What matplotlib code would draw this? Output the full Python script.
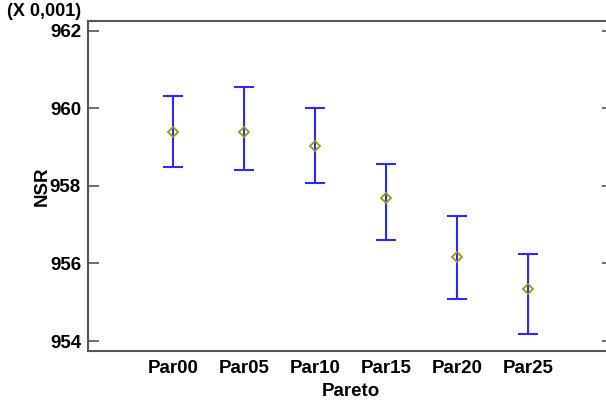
import matplotlib
matplotlib.use("Agg")
import matplotlib.pyplot as plt
import numpy as np

# values in units of 0.001
groups = ["Par00", "Par05", "Par10", "Par15", "Par20", "Par25"]
means = [959.40, 959.40, 959.04, 957.68, 956.17, 955.34]
upper = [960.32, 960.55, 960.00, 958.57, 957.22, 956.24]
lower = [958.48, 958.40, 958.07, 956.61, 955.08, 954.19]
yticks = [954, 956, 958, 960, 962]

plt.rcParams['font.family'] = ['Liberation Sans', 'DejaVu Sans']
plt.rcParams['font.weight'] = 'bold'

fig = plt.figure(figsize=(6.06, 4.01), dpi=100)
ax = fig.add_axes([88 / 606, 50.3 / 401, 525 / 606, 329.7 / 401])

x = np.arange(len(groups))
means = np.array(means)
err = [means - np.array(lower), np.array(upper) - means]

ax.errorbar(x, means, yerr=err, fmt='none', ecolor='#2a2aff',
            elinewidth=1.5, capsize=7, capthick=1.5)
ax.plot(x, means, linestyle='none', marker='D', markersize=5,
        markerfacecolor='none', markeredgecolor='#9a9a10', markeredgewidth=1.3)

ax.set_xlim(-1.2, 6.2)
ax.set_ylim(953.75, 962.25)
ax.set_xticks(x)
ax.set_xticklabels(groups)
ax.set_yticks(yticks)
ax.set_yticklabels([str(t) for t in yticks])

for s in ['left', 'top', 'bottom']:
    ax.spines[s].set_color('#555555')
    ax.spines[s].set_linewidth(1.5)
ax.spines['right'].set_visible(False)

ax.tick_params(axis='y', direction='in', length=8, width=1.2, color='#555555',
               labelsize=13.5, pad=5, right=True)
ax.tick_params(axis='x', length=0, labelsize=13.5, pad=7)

ax.set_xlabel("Pareto", fontsize=13.5, fontweight='bold', labelpad=4)
ax.set_ylabel("NSR", fontsize=13.5, fontweight='bold', labelpad=-1)
fig.text(7 / 606, 1 - 12 / 401, "(X 0,001)", fontsize=13, fontweight='bold',
         ha='left', va='center')

fig.savefig("out.png", dpi=100)
